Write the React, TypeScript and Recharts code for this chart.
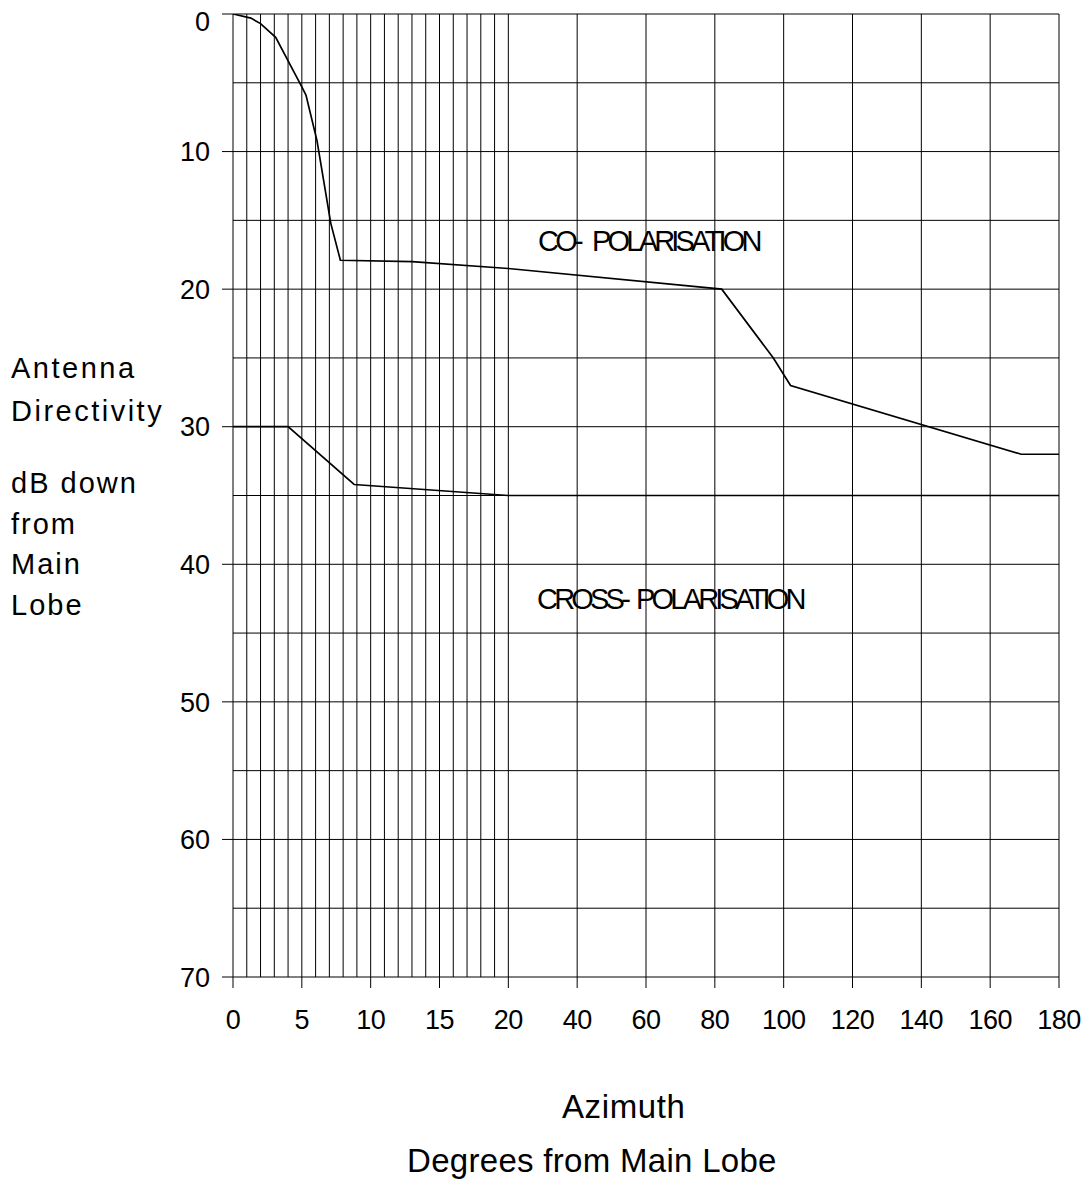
import { LineChart, Line, XAxis, YAxis, ReferenceLine } from "recharts"

// co-polarisation curve (degrees from main lobe -> dB down)
const coDeg = [0, 1.3, 2, 3.1, 5, 5.3, 6.1, 7.1, 7.8, 13, 20, 82, 97, 102, 169, 180]
const coDb = [0, 0.3, 0.7, 1.7, 5.3, 5.9, 9.2, 15.2, 17.9, 18, 18.5, 20, 25, 27, 32, 32]

// cross-polarisation curve
const crossDeg = [0, 4, 8.8, 20, 180]
const crossDb = [30, 30, 34.2, 35, 35]

const xTickDeg = [0, 5, 10, 15, 20, 40, 60, 80, 100, 120, 140, 160, 180]
const yTicks = [0, 10, 20, 30, 40, 50, 60, 70]
const gridDeg = [
  1, 2, 3, 4, 5, 6, 7, 8, 9, 10, 11, 12, 13, 14, 15, 16, 17, 18, 19, 20,
  40, 60, 80, 100, 120, 140, 160, 180,
]
const gridDb = [0, 5, 10, 15, 20, 25, 30, 35, 40, 45, 50, 55, 60, 65]

const yTitle = ["Antenna", "Directivity"]
const ySubTitle = ["dB down", "from", "Main", "Lobe"]

// 0-20 deg is drawn at 4x the scale of 20-180 deg
const toU = (deg: number) => (deg <= 20 ? deg : 20 + (deg - 20) / 4)
const fromU = (u: number) => (u <= 20 ? u : 20 + (u - 20) * 4)

const coData = coDeg.map((d, i) => ({ u: toU(d), db: coDb[i] }))
const crossData = crossDeg.map((d, i) => ({ u: toU(d), db: crossDb[i] }))

const font = "'Liberation Sans', Arial, sans-serif"

function YTick(props: any) {
  const { x, y, payload } = props
  return (
    <text
      x={x}
      y={Math.max(y, 21)}
      dy="0.36em"
      textAnchor="end"
      fontFamily={font}
      fontSize={27}
      fill="#000"
    >
      {payload.value}
    </text>
  )
}

export default function App() {
  return (
    <div style={{ position: "absolute", left: 0, top: 0, width: 1085, height: 1182, background: "#fff" }}>
      <LineChart
        width={1085}
        height={1182}
        margin={{ top: 14, right: 26, left: 173, bottom: 145 }}
      >
        {gridDb.map((v) => (
          <ReferenceLine key={`h${v}`} y={v} stroke="#000" strokeWidth={1} />
        ))}
        {gridDeg.map((d) => (
          <ReferenceLine key={`v${d}`} x={toU(d)} stroke="#000" strokeWidth={1} />
        ))}
        <XAxis
          type="number"
          dataKey="u"
          domain={[0, 60]}
          ticks={xTickDeg.map(toU)}
          tickFormatter={(u: number) => String(Math.round(fromU(u)))}
          interval={0}
          height={60}
          tickSize={11}
          tickMargin={22}
          stroke="#000"
          tick={{ fill: "#000", fontSize: 27, fontFamily: font, letterSpacing: -0.5 }}
          allowDataOverflow
        />
        <YAxis
          type="number"
          dataKey="db"
          domain={[0, 70]}
          reversed
          ticks={yTicks}
          interval={0}
          width={60}
          tickSize={11}
          tickMargin={12}
          stroke="#000"
          tick={<YTick />}
          allowDataOverflow
        />
        <Line
          data={coData}
          dataKey="db"
          type="linear"
          stroke="#000"
          strokeWidth={1.7}
          dot={false}
          isAnimationActive={false}
        />
        <Line
          data={crossData}
          dataKey="db"
          type="linear"
          stroke="#000"
          strokeWidth={1.7}
          dot={false}
          isAnimationActive={false}
        />
      </LineChart>
      <svg
        width={1085}
        height={1182}
        style={{ position: "absolute", left: 0, top: 0, pointerEvents: "none" }}
        fontFamily={font}
        fill="#000"
      >
        <text y={251} fontSize={29} letterSpacing={-3.8}>
          <tspan x={538}>CO-</tspan>
          <tspan x={592}>POLARISATION</tspan>
        </text>
        <text y={609} fontSize={29} letterSpacing={-3.8}>
          <tspan x={537}>CROSS-</tspan>
          <tspan x={636}>POLARISATION</tspan>
        </text>
        {yTitle.map((t, i) => (
          <text key={t} x={11} y={378 + i * 43} fontSize={29} letterSpacing={2.5}>{t}</text>
        ))}
        {ySubTitle.map((t, i) => (
          <text key={t} x={11} y={493 + i * 40.5} fontSize={29} letterSpacing={2}>{t}</text>
        ))}
        <text x={562} y={1118} fontSize={33} letterSpacing={0.6}>Azimuth</text>
        <text x={407} y={1172} fontSize={33} letterSpacing={0.3}>Degrees from Main Lobe</text>
      </svg>
    </div>
  )
}
